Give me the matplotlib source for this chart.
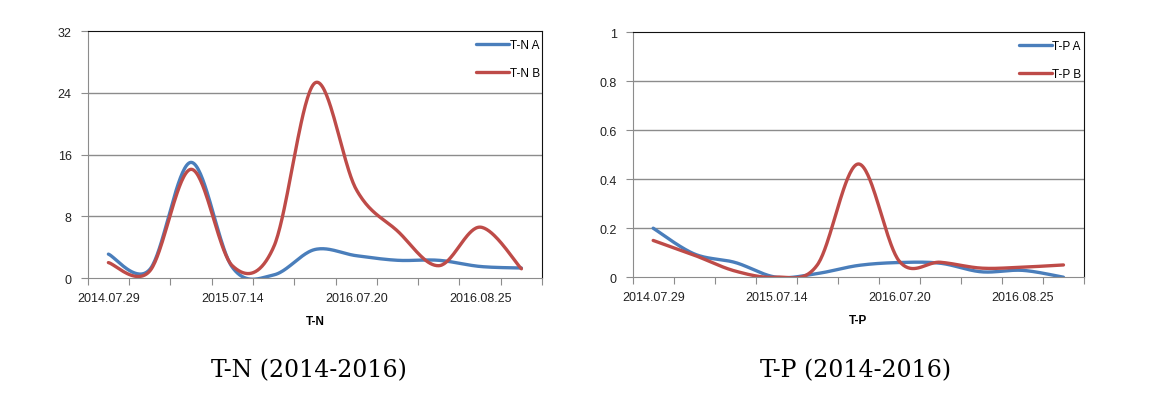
import numpy as np
import matplotlib
matplotlib.use("Agg")
import matplotlib.pyplot as plt

# values (11 sampling dates each)
tick_labels = ["2014.07.29", "2015.07.14", "2016.07.20", "2016.08.25"]
label_pos = [0, 3, 6, 9]

tn_a = [3.1, 1.1, 15.0, 1.4, 0.4, 3.7, 2.9, 2.3, 2.3, 1.5, 1.3]
tn_b = [2.0, 0.9, 14.1, 1.6, 4.0, 25.3, 11.5, 6.1, 1.6, 6.6, 1.2]
tp_a = [0.20, 0.095, 0.06, 0.0, 0.015, 0.048, 0.06, 0.057, 0.022, 0.028, 0.0]
tp_b = [0.15, 0.09, 0.025, 0.0, 0.05, 0.462, 0.065, 0.061, 0.037, 0.041, 0.05]

BLUE = "#4A7EBB"
RED = "#BE4B48"
GRID = "#8c8c8c"


def smooth(y, n=40):
    # excel style smoothed line: bezier segments with catmull-rom handles
    y = np.asarray(y, dtype=float)
    x = np.arange(len(y), dtype=float)
    pts = np.column_stack([x, y])
    ext = np.vstack([pts[0], pts, pts[-1]])
    xs, ys = [], []
    t = np.linspace(0, 1, n)
    for i in range(len(pts) - 1):
        p0, p3 = ext[i + 1], ext[i + 2]
        p1 = p0 + (ext[i + 2] - ext[i]) / 6.0
        p2 = p3 - (ext[i + 3] - ext[i + 1]) / 6.0
        b = ((1 - t) ** 3)[:, None] * p0 + (3 * (1 - t) ** 2 * t)[:, None] * p1 \
            + (3 * (1 - t) * t ** 2)[:, None] * p2 + (t ** 3)[:, None] * p3
        xs.append(b[:, 0])
        ys.append(b[:, 1])
    return np.concatenate(xs), np.concatenate(ys)


def draw(ax, a, b, names, ymax, yticks, ylabels, xtitle):
    n = len(a)
    for vals, col, name in [(a, BLUE, names[0]), (b, RED, names[1])]:
        sx, sy = smooth(vals)
        ax.plot(sx, sy, color=col, lw=2.4, label=name, solid_capstyle="round")
    ax.set_xlim(-0.5, n - 0.5)
    ax.set_ylim(0, ymax)
    ax.set_yticks(yticks)
    ax.set_yticklabels(ylabels)
    for yv in yticks[1:-1]:
        ax.axhline(yv, color=GRID, lw=1, zorder=0)
    ax.set_xticks(np.arange(-0.5, n, 1.0))
    ax.set_xticklabels([])
    ax.set_xticks(label_pos, minor=True)
    ax.set_xticklabels(tick_labels, minor=True)
    ax.tick_params(axis="x", which="major", length=5, color=GRID, direction="out")
    ax.tick_params(axis="x", which="minor", length=0, pad=10, labelsize=9, labelcolor="#222")
    ax.tick_params(axis="y", length=5, color=GRID, direction="out", labelsize=9,
                   labelcolor="#222", pad=6.5)
    for s in ["left", "bottom"]:
        ax.spines[s].set_color(GRID)
    for s in ["top", "right"]:
        ax.spines[s].set_color("#111")
    ax.set_xlabel(xtitle, fontsize=8.5, fontweight="bold", labelpad=8)
    leg = ax.legend(loc="upper left", bbox_to_anchor=(0.855, 0.968), frameon=False,
                    fontsize=8.5, handlelength=2.8, handletextpad=0.05,
                    labelspacing=1.38, borderpad=0, borderaxespad=0)
    for line in leg.get_lines():
        line.set_linewidth(2.4)


plt.rcParams["font.family"] = ["Liberation Sans", "DejaVu Sans"]
fig = plt.figure(figsize=(11.56, 4.14), dpi=100)
ax1 = fig.add_axes([0.0759, 0.326, 0.393, 0.596])
ax2 = fig.add_axes([0.5473, 0.328, 0.3904, 0.592])

draw(ax1, tn_a, tn_b, ["T-N A", "T-N B"], 32, [0, 8, 16, 24, 32],
     ["0", "8", "16", "24", "32"], "T-N")
draw(ax2, tp_a, tp_b, ["T-P A", "T-P B"], 1, [0, 0.2, 0.4, 0.6, 0.8, 1],
     ["0", "0.2", "0.4", "0.6", "0.8", "1"], "T-P")

cap_font = ["DejaVu Serif", "Liberation Serif"]
fig.text(0.267, 0.104, "T-N (2014-2016)", ha="center", va="center",
         fontsize=17, family=cap_font)
fig.text(0.740, 0.104, "T-P (2014-2016)", ha="center", va="center",
         fontsize=17, family=cap_font)

fig.savefig("out.png", dpi=100)
